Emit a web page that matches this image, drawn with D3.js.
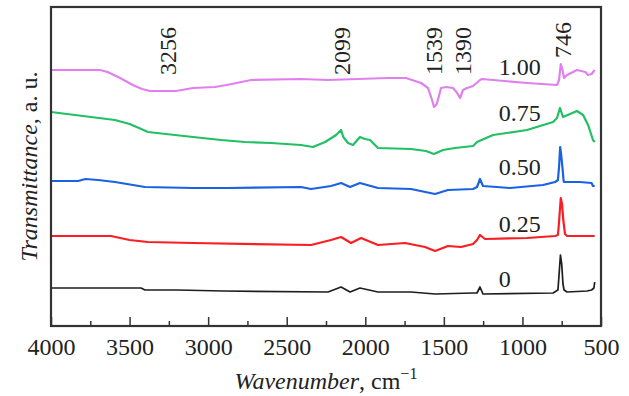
<!DOCTYPE html>
<meta charset="utf-8">
<head>
<script src="https://d3js.org/d3.v7.min.js"></script>
<style>
  body { margin: 0; background: #fff; }
  text { font-family: "Liberation Serif", "Times New Roman", serif; fill: #222; }
</style>
</head>
<body>
<div id="chart"></div>
<script>

// spectra: [wavenumber cm-1, transmittance a.u. (offset for display)]
var s100 = [[4000,25.6],[3688,25.6],[3640,25.4],[3560,24.8],[3480,24.1],[3420,23.7],[3370,23.5],[3205,23.5],[3096,23.8],
  [2956,23.9],[2850,24.2],[2727,24.6],[2409,24.7],[2237,24.6],[1855,24.8],[1741,24.8],[1645,24.3],[1601,23.8],
  [1575,22.6],[1563,21.9],[1545,22.2],[1518,23.8],[1486,23.9],[1442,23.8],[1420,23.4],[1397,22.8],[1378,23.6],
  [1353,23.8],[1314,24.0],[1270,24.6],[1257,24.7],[1187,24.6],[971,24.3],[780,24.1],[767,24.6],[756,26.2],
  [748,25.8],[735,24.8],[716,25.1],[653,25.6],[600,25.4],[582,25.1],[560,25.2],[540,25.6]];
var s075 = [[4000,21.4],[3593,20.6],[3500,20.2],[3440,19.8],[3383,19.4],[3211,19.1],[3096,18.9],[2918,18.6],[2765,18.4],
  [2600,18.3],[2409,18.1],[2333,17.9],[2256,18.4],[2205,18.9],[2186,19.1],[2154,19.6],[2140,18.9],[2110,18.3],
  [2078,18.1],[2034,18.9],[2002,18.7],[1970,18.6],[1919,17.8],[1709,17.7],[1614,17.5],[1563,17.2],[1505,17.6],
  [1429,17.8],[1314,18.0],[1289,18.4],[1187,19.1],[971,19.6],[805,20.4],[780,20.8],[761,21.8],[742,20.9],
  [697,21.2],[653,21.5],[614,21.1],[582,20.1],[551,18.6],[540,18.4]];
var s050 = [[4000,14.5],[3828,14.5],[3780,14.7],[3700,14.6],[3593,14.4],[3402,13.9],[3096,13.8],[2874,13.8],
  [2409,13.9],[2345,13.7],[2218,14.0],[2154,14.3],[2097,13.9],[2034,14.3],[1919,13.8],[1709,13.7],[1556,13.2],
  [1474,13.6],[1314,13.7],[1289,13.9],[1270,14.7],[1251,14.0],[1079,13.8],[869,14.1],[792,14.4],[774,14.6],
  [767,15.9],[760,17.9],[754,17.2],[745,15.8],[738,14.5],[735,14.4],[634,14.4],[560,14.3],[551,14.0],[540,14.0]];
var s025 = [[4000,9.0],[3618,9.0],[3500,8.6],[3383,8.4],[3096,8.3],[2345,8.1],[2218,8.6],[2154,8.9],[2091,8.3],
  [2027,8.8],[1919,8.1],[1747,8.3],[1620,7.9],[1556,7.5],[1474,8.0],[1391,7.9],[1314,8.2],[1289,8.6],[1270,9.1],
  [1238,8.7],[971,8.8],[792,9.0],[774,9.1],[767,10.4],[756,12.8],[748,12.2],[740,10.6],[729,9.2],[716,9.0],[540,9.0]];
var s000 = [[4000,3.8],[3427,3.8],[3402,3.6],[3200,3.6],[2900,3.5],[2237,3.4],[2154,3.9],[2097,3.4],[2034,3.8],
  [1919,3.4],[1709,3.4],[1556,3.2],[1314,3.3],[1289,3.3],[1270,3.9],[1251,3.2],[805,3.3],[774,3.6],[767,5.1],
  [758,7.1],[750,6.2],[742,4.2],[735,3.6],[716,3.4],[589,3.5],[560,3.6],[545,3.8],[540,4.4]];

var seriesData = [s100, s075, s050, s025, s000];
var seriesNames = ["1.00", "0.75", "0.50", "0.25", "0"];
var seriesColors = ["#e080ee", "#22c063", "#1a62e2", "#fa1e22", "#1e1e1e"];
var nameLabelWn = 1150;
var nameLabelY = [25.1, 20.5, 15.1, 9.4, 3.9];

// band annotations: text, position (cm-1), start height
var peakText = ["3256", "2099", "1539", "1390", "746"];
var peakPos = [3256, 2150, 1565, 1378, 742];
var peakY = [25.1, 25.1, 25.1, 25.1, 26.8];

var xTicks = [4000, 3500, 3000, 2500, 2000, 1500, 1000, 500];
var xMinor = [3750, 3250, 2750, 2250, 1750, 1250, 750];

var margin = {top: 7, right: 28, bottom: 70, left: 51},
    width = 629 - margin.left - margin.right,
    height = 396 - margin.top - margin.bottom;

var svg = d3.select("#chart")
  .append("svg")
    .attr("width", 629)
    .attr("height", 396)
  .append("g")
    .attr("transform", "translate(" + margin.left + "," + margin.top + ")");

var x = d3.scaleLinear().domain([4000, 500]).range([0, width]);
var y = d3.scaleLinear().domain([0, 31.9]).range([height, 0]);

// spectra
var line = d3.line()
  .x(function(d) { return x(d[0]) })
  .y(function(d) { return y(d[1]) });

seriesData.forEach(function(s, i) {
  svg.append("path")
    .datum(s)
    .attr("fill", "none")
    .attr("stroke", seriesColors[i])
    .attr("stroke-width", i == 4 ? 1.7 : 2.2)
    .attr("stroke-linejoin", "round")
    .attr("d", line);

  svg.append("text")
    .attr("x", x(nameLabelWn))
    .attr("y", y(nameLabelY[i]))
    .style("font-size", "24px")
    .text(seriesNames[i]);
});

// band labels, rotated
peakText.forEach(function(t, i) {
  svg.append("text")
    .attr("transform", "translate(" + (x(peakPos[i]) + 8) + "," + y(peakY[i]) + ") rotate(-90)")
    .style("font-size", "24px")
    .text(t);
});

// bottom axis, ticks pointing inward
var xAxis = svg.append("g")
  .attr("transform", "translate(0," + height + ")")
  .call(d3.axisBottom(x).tickValues(xTicks).tickFormat(d3.format("d"))
    .tickSize(-9).tickPadding(12).tickSizeOuter(0));
xAxis.selectAll("text").style("font-size", "24px").attr("font-family", null);
xAxis.selectAll("line").attr("stroke", "#333").attr("stroke-width", 1.5);
xAxis.select(".domain").remove();

var xAxisMinor = svg.append("g")
  .attr("transform", "translate(0," + height + ")")
  .call(d3.axisBottom(x).tickValues(xMinor).tickSize(-5).tickFormat("").tickSizeOuter(0));
xAxisMinor.selectAll("line").attr("stroke", "#333").attr("stroke-width", 1.5);
xAxisMinor.select(".domain").remove();

// frame
svg.append("rect")
  .attr("width", width)
  .attr("height", height)
  .attr("fill", "none")
  .attr("stroke", "#333")
  .attr("stroke-width", 2.2);

// axis titles
var xt = svg.append("text")
  .attr("x", width / 2)
  .attr("y", height + 63)
  .attr("text-anchor", "middle")
  .style("font-size", "24px");
xt.append("tspan").style("font-style", "italic").text("Wavenumber");
xt.append("tspan").text(", cm");
xt.append("tspan").attr("dy", -10).style("font-size", "16px").text("\u22121");

var yt = svg.append("text")
  .attr("transform", "translate(" + (-14) + "," + (height / 2) + ") rotate(-90)")
  .attr("text-anchor", "middle")
  .style("font-size", "24px");
yt.append("tspan").style("font-style", "italic").text("Transmittance");
yt.append("tspan").text(", a. u.");

</script>
</body>
</html>
